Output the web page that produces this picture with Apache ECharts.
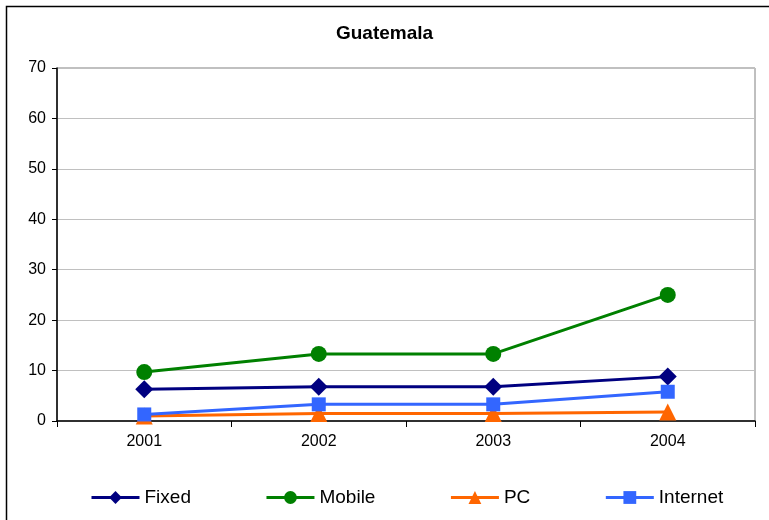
<!DOCTYPE html>
<html style="height: 100%">
<head>
  <meta charset="utf-8">
</head>
<body style="height: 100%; margin: 0; background: #fff">
  <div id="container" style="width: 769px; height: 520px"></div>
  <script type="text/javascript" src="https://cdn.jsdelivr.net/npm/echarts@6/dist/echarts.min.js"></script>
  <script type="text/javascript">
var years = ['2001', '2002', '2003', '2004'];
var fixed = [6.3, 6.8, 6.8, 8.8];
var mobile = [9.7, 13.3, 13.3, 25.0];
var pc = [1.0, 1.5, 1.5, 1.8];
var internet = [1.3, 3.3, 3.3, 5.8];

var chart = echarts.init(document.getElementById('container'), null, { renderer: 'canvas' });
var font = 'Liberation Sans, Arial, sans-serif';

function line(name, data, color, symbol, size) {
  return {
    name: name,
    type: 'line',
    data: data,
    symbol: symbol,
    symbolSize: size,
    lineStyle: { color: color, width: 3 },
    itemStyle: { color: color },
    emphasis: { disabled: true }
  };
}

var option = {
  animation: false,
  backgroundColor: '#fff',
  textStyle: { fontFamily: font },
  title: {
    text: 'Guatemala',
    left: 'center',
    top: 19,
    textStyle: { fontSize: 19, fontWeight: 'bold', color: '#000', fontFamily: font }
  },
  graphic: [{
    type: 'rect',
    left: 4, top: 4,
    shape: { width: 800, height: 600 },
    style: { fill: 'none', stroke: '#000', lineWidth: 1.5 },
    silent: true
  }],
  grid: {
    left: 57, right: 14, top: 68, bottom: 99,
    show: true, borderColor: '#808080', borderWidth: 1
  },
  legend: {
    left: 85, top: 483,
    itemWidth: 48, itemHeight: 16, itemGap: 74, itemSymbolSize: 16,
    lineStyle: { width: 3 },
    textStyle: { fontSize: 19, color: '#000', fontFamily: font, padding: [0, 0, 0, 0] },
    data: ['Fixed', 'Mobile', 'PC', 'Internet']
  },
  xAxis: {
    type: 'category',
    data: years,
    boundaryGap: true,
    axisLine: { lineStyle: { color: '#000', width: 1.5 } },
    axisTick: { show: true, inside: false, length: 6, lineStyle: { color: '#000' } },
    axisLabel: { color: '#000', fontSize: 16, margin: 13 }
  },
  yAxis: {
    type: 'value',
    min: 0, max: 70, interval: 10,
    axisLine: { show: true, lineStyle: { color: '#000', width: 1.5 } },
    axisTick: { show: true, inside: false, length: 5, lineStyle: { color: '#000' } },
    axisLabel: { color: '#000', fontSize: 16, margin: 11 },
    splitLine: { lineStyle: { color: '#c0c0c0', width: 1 } }
  },
  series: [
    line('Fixed', fixed, '#000080', 'diamond', 18),
    line('Mobile', mobile, '#008000', 'circle', 16),
    line('PC', pc, '#ff6600', 'triangle', 17),
    line('Internet', internet, '#3366ff', 'rect', 14)
  ]
};

chart.setOption(option);
window.addEventListener('resize', chart.resize);
  </script>
</body>
</html>
